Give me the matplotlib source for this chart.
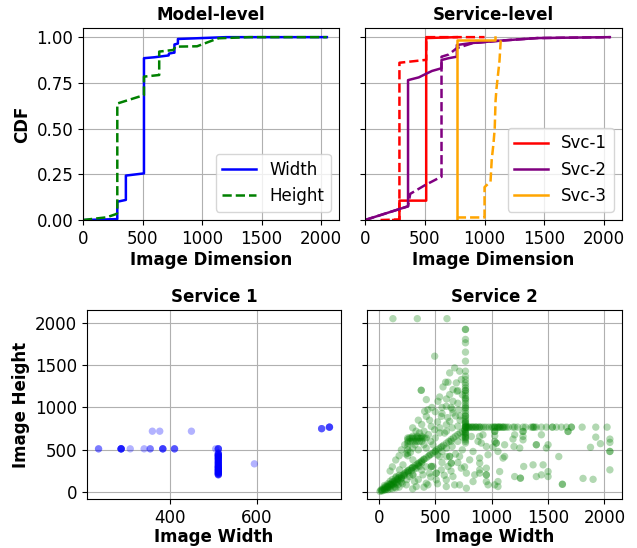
import numpy as np
import matplotlib
matplotlib.use('Agg')
import matplotlib.pyplot as plt

# ---- CDF data (x = image dimension, y = cumulative fraction) ----
model_w_x = [0, 288, 288, 360, 360, 512, 512, 600, 719, 722, 761, 768, 768, 797, 797, 1000, 1200, 2048]
model_w_y = [0.0, 0.005, 0.10, 0.11, 0.243, 0.255, 0.885, 0.89, 0.90, 0.91, 0.915, 0.915, 0.96, 0.965, 0.99, 0.995, 1.0, 1.0]

model_h_x = [0, 200, 280, 288, 288, 512, 512, 640, 640, 760, 775, 958, 1100, 1140, 1400, 2048]
model_h_y = [0.0, 0.015, 0.033, 0.04, 0.637, 0.683, 0.784, 0.793, 0.921, 0.93, 0.948, 0.95, 0.985, 0.994, 1.0, 1.0]

svc1_w_x = [236, 288, 288, 512, 512, 768]
svc1_w_y = [0.0, 0.0, 0.106, 0.106, 0.995, 1.0]
svc1_h_x = [130, 288, 288, 500, 512, 512, 1000]
svc1_h_y = [0.0, 0.003, 0.86, 0.875, 0.875, 1.0, 1.0]

svc2_w_x = [0, 360, 360, 450, 512, 560, 640, 640, 700, 768, 768, 882, 1134, 1443, 2048]
svc2_w_y = [0.0, 0.075, 0.765, 0.78, 0.80, 0.815, 0.83, 0.875, 0.885, 0.893, 0.957, 0.967, 0.981, 0.995, 1.0]
svc2_h_x = [0, 360, 378, 500, 630, 640, 640, 700, 768, 900, 1134, 1443, 2048]
svc2_h_y = [0.0, 0.075, 0.143, 0.19, 0.234, 0.236, 0.893, 0.905, 0.94, 0.967, 0.981, 0.995, 1.0]

svc3_w_x = [768, 768, 1090, 1090]
svc3_w_y = [0.0, 0.985, 0.985, 1.0]
svc3_h_x = [768, 1000, 1000, 1050, 1060, 1075, 1085, 1092, 1100, 1110, 1125, 1135, 1145]
svc3_h_y = [0.014, 0.014, 0.18, 0.21, 0.33, 0.42, 0.50, 0.65, 0.72, 0.78, 0.87, 0.98, 1.0]

# ---- Service 1 scatter (width, height) ----
svc1_col_h = [205, 210, 218, 225, 232, 240, 248, 256, 262, 270, 278, 288, 295, 300, 310, 320,
              330, 341, 350, 360, 370, 384, 392, 400, 410, 420, 427, 435, 442, 450, 460]
svc1_w = [236, 236, 288, 288, 288, 288, 288, 288, 309, 341, 355, 355, 360, 377, 384, 384, 384, 384,
          411, 411, 411, 450, 506, 512, 512, 512, 512, 595, 750, 750, 750, 768, 768, 768, 768] \
    + [512] * len(svc1_col_h) * 2
svc1_h = [512, 512, 512, 512, 512, 512, 512, 512, 512, 512, 512, 512, 720, 720, 512, 512, 512, 512,
          512, 512, 512, 720, 512, 512, 512, 512, 512, 335, 750, 750, 750, 768, 768, 768, 768] \
    + svc1_col_h * 2

# ---- Service 2 scatter (width, height) ----
diag_w = [20, 30, 45, 60, 75, 90, 100, 115, 128, 140, 160, 170, 180, 200, 215, 230, 240, 256, 270,
          288, 300, 320, 340, 360, 375, 384, 400, 420, 440, 460, 480, 500, 512, 530, 550, 575, 600,
          620, 640, 660, 680, 700, 720, 740, 760, 300, 350, 400, 450, 500, 560,
          50, 80, 110, 140, 170, 200, 230, 260, 290, 320, 350, 380]
diag_h = [20, 25, 40, 58, 70, 88, 95, 110, 125, 132, 150, 165, 175, 190, 208, 222, 235, 248, 260,
          280, 292, 310, 328, 348, 362, 372, 388, 405, 425, 445, 462, 480, 500, 512, 530, 555, 580,
          600, 620, 640, 660, 680, 700, 718, 737, 292, 340, 390, 440, 485, 540,
          35, 60, 90, 115, 145, 170, 200, 230, 255, 285, 315, 345]

vert_w = [768] * 48
vert_h = [580, 600, 620, 640, 660, 680, 700, 720, 740, 768, 768, 768, 790, 810, 830, 850, 870, 900,
          930, 960, 990, 1020, 1050, 1080, 1110, 1140, 1170, 1200, 1230, 1260, 1290, 1329, 1369, 1428,
          1546, 1653, 1763, 1803, 1921, 1921, 1000, 1100, 1200, 900, 820, 780, 700, 650]

horiz_w = [780, 790, 800, 815, 830, 845, 860, 875, 893, 893, 910, 930, 950, 975, 1000, 1012, 1027,
           1027, 1040, 1056, 1071, 1085, 1101, 1115, 1130, 1150, 1189, 1204, 1230, 1278, 1300, 1350,
           1367, 1367, 1380, 1396, 1441, 1485, 1538, 1538, 1574, 1618, 1663, 1707, 1707, 1802, 1923, 2023,
           800, 830, 860, 1056, 1071, 1101]
horiz_h = [768] * len(horiz_w)

clust_w = [256, 270, 285, 300, 315, 330, 345, 360, 375, 390, 405, 420, 260, 280, 300, 320, 340,
           360, 380, 256, 256, 256, 256, 256, 256, 300, 340, 380]
clust_h = [640, 640, 640, 640, 640, 640, 640, 640, 640, 640, 640, 640, 600, 600, 600, 600, 600,
           600, 600, 620, 580, 540, 500, 460, 430, 660, 660, 660]

upper_w = [125, 341, 604, 495, 628, 672, 716, 592, 613, 569, 376, 376, 657, 628, 687, 731, 693, 539,
           524, 657, 598, 657, 710, 421, 406, 435, 554, 628, 598, 465, 495, 583, 421, 470, 500, 350,
           380, 300, 330, 450, 520, 560, 600, 640, 700, 740, 700, 680, 720, 540, 400, 440, 360, 200,
           230, 180, 150, 120, 100, 240, 300, 280, 320, 350, 400, 420, 460, 500, 540, 480, 600, 650,
           700, 720, 650, 610, 560, 214]
upper_h = [2048, 2048, 2048, 1605, 1408, 1467, 1428, 1298, 1298, 1242, 1203, 1203, 1211, 1152, 1290,
           1329, 1191, 1124, 1073, 1073, 1014, 935, 974, 895, 954, 974, 895, 836, 797, 777, 737, 698,
           1093, 1000, 950, 850, 800, 760, 720, 850, 830, 1000, 1100, 1000, 1050, 1150, 1200, 900, 850,
           760, 720, 680, 700, 500, 560, 430, 380, 300, 250, 450, 520, 470, 560, 500, 560, 520, 600,
           640, 700, 560, 720, 760, 780, 900, 980, 880, 930, 323]

lower_w = [302, 361, 450, 539, 628, 628, 642, 642, 613, 716, 731, 776, 805, 835, 879, 923, 820, 894,
           894, 953, 968, 835, 716, 598, 509, 421, 332, 243, 125, 154, 184, 273, 391, 480, 509, 509,
           554, 598, 657, 672, 776, 850, 302, 302, 317, 435, 465, 465, 200, 250, 350, 380, 420, 560,
           600, 680, 700, 740, 760, 640, 580, 520, 460, 400, 300, 180, 100, 80, 60, 150, 220, 260,
           330, 600, 650, 700, 740, 560, 520, 640]
lower_h = [382, 304, 225, 422, 422, 422, 343, 343, 304, 422, 284, 225, 382, 481, 600, 678, 658, 343,
           264, 205, 87, 126, 87, 67, 146, 106, 67, 87, 87, 185, 264, 185, 205, 304, 225, 225, 264,
           146, 185, 87, 47, 205, 205, 205, 126, 87, 304, 304, 120, 150, 150, 260, 300, 350, 420, 450,
           350, 500, 300, 250, 200, 100, 180, 60, 40, 60, 40, 60, 30, 100, 200, 260, 280, 520, 540,
           600, 650, 480, 440, 600]

origin_w = [10, 20, 30, 40, 50, 60, 70, 80, 90, 100, 110, 120, 130, 140, 150, 160, 170, 180, 190,
            200, 210, 50, 80, 120, 150]
origin_h = [10, 30, 15, 50, 25, 70, 40, 100, 60, 130, 80, 150, 100, 60, 170, 120, 90, 200, 140,
            160, 100, 80, 30, 40, 50]

right_w = [1677, 1677, 1923, 2048, 2048, 2048, 2048, 2048, 1876, 1964, 1899, 1810, 1627, 1627, 1595,
           1500, 1500, 1456, 1441, 1367, 1396, 1500, 1485, 1441, 1396, 1396, 1278, 1278, 1278, 1278,
           1249, 1255, 1255, 1204, 1284, 1204, 1189, 1198, 1115, 1101, 1115, 1056, 1027, 1027, 1027,
           1027, 1012, 1041, 1041, 1071, 1056, 1056, 1027, 953, 953, 953, 968, 908, 893, 893, 893, 953]
right_h = [717, 717, 650, 627, 588, 481, 481, 264, 530, 573, 152, 163, 94, 94, 421, 244, 185, 323,
           205, 323, 185, 560, 521, 678, 560, 560, 717, 717, 658, 618, 521, 166, 166, 185, 304, 678,
           627, 540, 560, 403, 422, 481, 600, 717, 717, 666, 533, 580, 580, 244, 126, 67, 87, 126,
           205, 284, 442, 580, 658, 403, 225, 540]

svc2_w = diag_w + vert_w + horiz_w + clust_w + upper_w + lower_w + origin_w + right_w
svc2_h = diag_h + vert_h + horiz_h + clust_h + upper_h + lower_h + origin_h + right_h

fig = plt.figure(figsize=(6.37, 5.48), dpi=100)
ax1 = fig.add_axes([0.1303, 0.5985, 0.4019, 0.3504])
ax2 = fig.add_axes([0.5730, 0.5985, 0.4035, 0.3504], sharey=ax1)
ax3 = fig.add_axes([0.1366, 0.0894, 0.3987, 0.3449])
ax4 = fig.add_axes([0.5761, 0.0894, 0.4003, 0.3449], sharey=ax3)

fs = 12
bold = dict(fontsize=fs, fontweight='bold')
lw = 1.8

ax1.plot(model_w_x, model_w_y, color='blue', lw=lw, label='Width')
ax1.plot(model_h_x, model_h_y, color='green', lw=lw, ls='--', label='Height')
ax1.set_title('Model-level', **bold)
ax1.set_ylabel('CDF', **bold)
ax1.legend(loc='lower right', fontsize=fs)

ax2.plot(svc1_w_x, svc1_w_y, color='red', lw=lw, label='Svc-1')
ax2.plot(svc1_h_x, svc1_h_y, color='red', lw=lw, ls='--')
ax2.plot(svc2_w_x, svc2_w_y, color='purple', lw=lw, label='Svc-2')
ax2.plot(svc2_h_x, svc2_h_y, color='purple', lw=lw, ls='--')
ax2.plot(svc3_w_x, svc3_w_y, color='orange', lw=lw, label='Svc-3')
ax2.plot(svc3_h_x, svc3_h_y, color='orange', lw=lw, ls='--')
ax2.set_title('Service-level', **bold)
ax2.legend(loc='lower right', fontsize=fs)

for ax in (ax1, ax2):
    ax.set_xlim(0, 2150)
    ax.set_ylim(0, 1.05)
    ax.set_xticks([0, 500, 1000, 1500, 2000])
    ax.set_yticks([0, 0.25, 0.5, 0.75, 1.0])
    ax.set_xlabel('Image Dimension', labelpad=2, **bold)
    ax.grid(True)
    ax.tick_params(labelsize=fs)
ax1.set_yticklabels(['0.00', '0.25', '0.50', '0.75', '1.00'])
ax2.tick_params(labelleft=False)

ax3.scatter(svc1_w, svc1_h, s=28, color='blue', alpha=0.3, edgecolors='none')
ax3.set_title('Service 1', **bold)
ax3.set_ylabel('Image Height', **bold)
ax3.set_xticks([400, 600])

ax4.scatter(svc2_w, svc2_h, s=28, color='green', alpha=0.3, edgecolors='none')
ax4.set_title('Service 2', **bold)
ax4.set_xlim(-105, 2155)
ax4.set_xticks([0, 500, 1000, 1500, 2000])

for ax in (ax3, ax4):
    ax.set_ylim(-80, 2150)
    ax.set_yticks([0, 500, 1000, 1500, 2000])
    ax.set_xlabel('Image Width', labelpad=1, **bold)
    ax.grid(True)
    ax.set_axisbelow(True)
    ax.tick_params(labelsize=fs)
ax4.tick_params(labelleft=False)

plt.savefig('out.png', dpi=100)
